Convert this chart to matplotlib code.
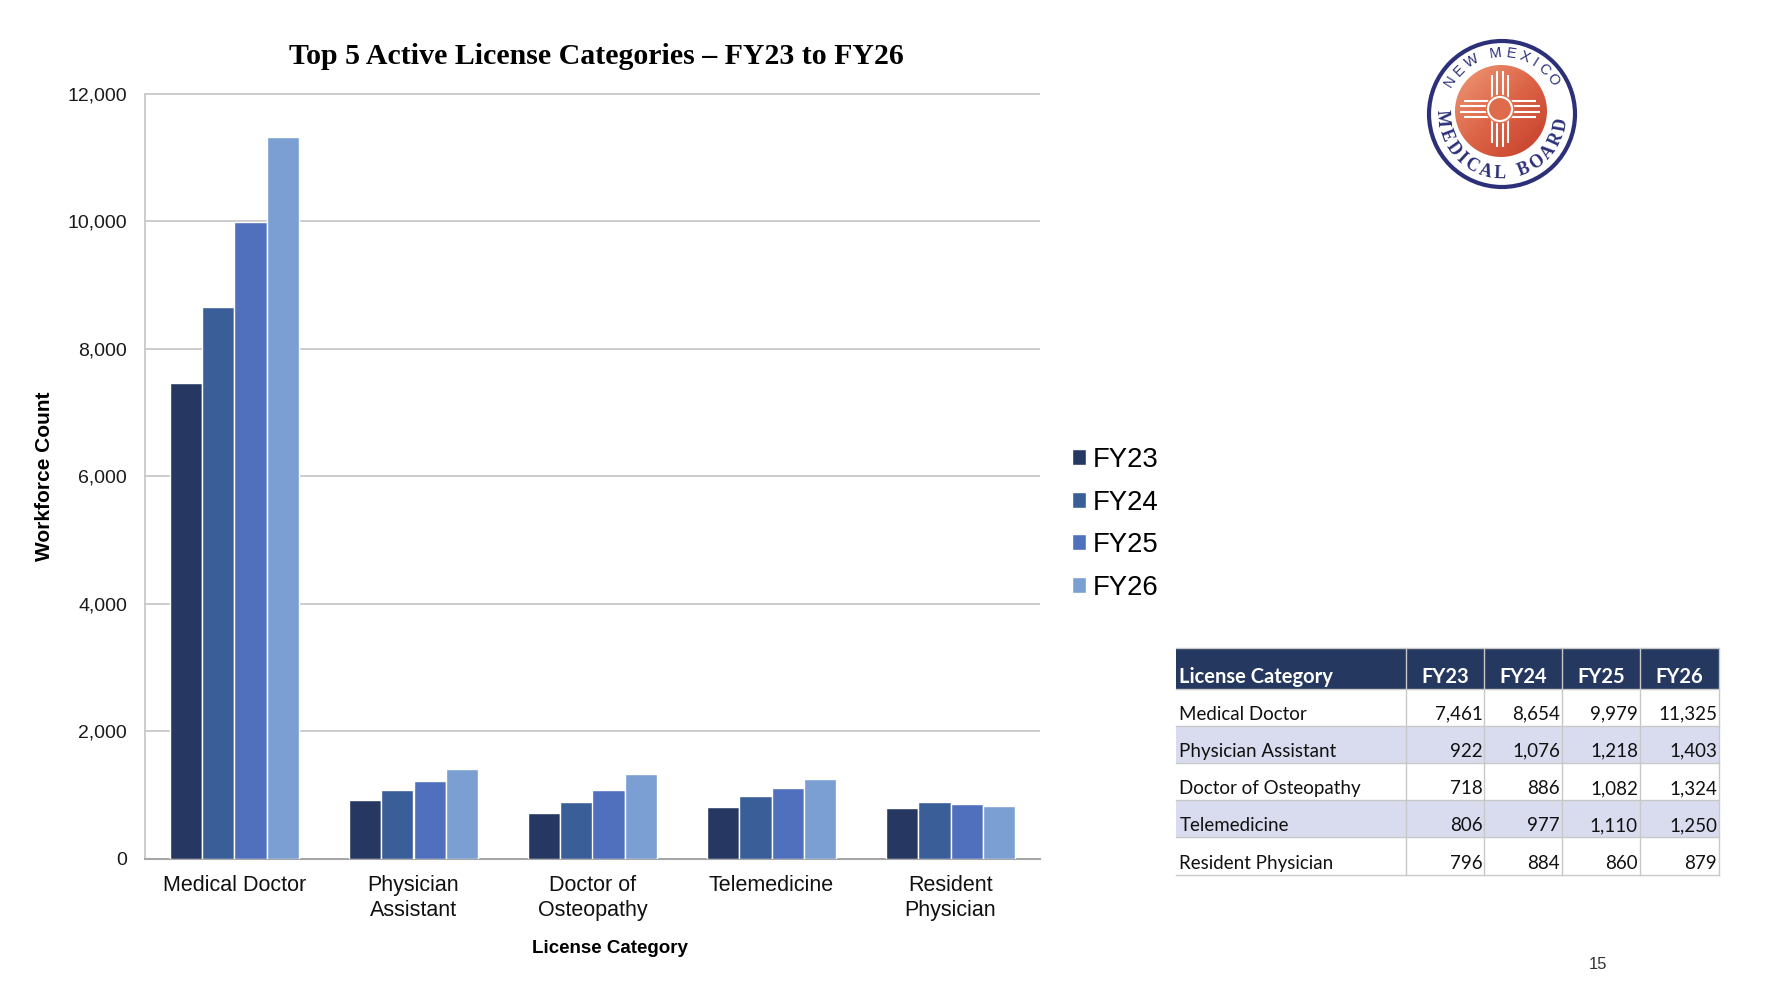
import numpy as np
import matplotlib.pyplot as plt
from matplotlib.patches import Rectangle, Circle
from matplotlib.colors import LinearSegmentedColormap
from matplotlib.ticker import FuncFormatter

plt.rcParams['font.family'] = ['Liberation Sans', 'DejaVu Sans']

categories = ['Medical Doctor', 'Physician Assistant', 'Doctor of Osteopathy',
              'Telemedicine', 'Resident Physician']
tick_labels = ['Medical Doctor', 'Physician\nAssistant', 'Doctor of\nOsteopathy',
               'Telemedicine', 'Resident\nPhysician']
years = ['FY23', 'FY24', 'FY25', 'FY26']
fy23 = [7461, 922, 718, 806, 796]
fy24 = [8654, 1076, 886, 977, 884]
fy25 = [9979, 1218, 1082, 1110, 860]
fy26 = [11325, 1403, 1324, 1250, 879]
# the FY26 Resident Physician bar on the slide sits lower than the table value
fy26_bar = [11325, 1403, 1324, 1250, 830]
table_series = [fy23, fy24, fy25, fy26]
bar_series = [fy23, fy24, fy25, fy26_bar]
colors = ['#263861', '#3A5E98', '#5070BE', '#7B9FD3']

W, H = 1774, 988
fig = plt.figure(figsize=(W / 100, H / 100), dpi=100)


def fx(px):
    return px / W


def fy(py):
    return 1 - py / H


# MAIN BAR CHART
ax_l, ax_r, ax_t, ax_b = 145, 1040, 93.5, 858.5
ax = fig.add_axes([fx(ax_l), fy(ax_b), (ax_r - ax_l) / W, (ax_b - ax_t) / H])
x = np.arange(len(categories))
bw = 0.18
for i, vals in enumerate(bar_series):
    ax.bar(x + (i - 1.5) * bw, vals, bw, color=colors[i], edgecolor='white',
           linewidth=1, label=years[i], zorder=3)
ax.set_xlim(-0.5, len(categories) - 0.5)
ax.set_ylim(0, 12000)
ax.set_yticks(range(0, 12001, 2000))
ax.yaxis.set_major_formatter(FuncFormatter(lambda v, p: f'{int(v):,}'))
ax.set_xticks(x)
ax.set_xticklabels(tick_labels, fontsize=15.5, linespacing=1.25)
ax.tick_params(axis='y', length=0, pad=13, labelsize=14, labelcolor='#1a1a1a')
ax.tick_params(axis='x', length=0, pad=12, labelcolor='#111111')
ax.grid(axis='y', color='#C4C4C4', linewidth=1.2, zorder=0)
ax.set_axisbelow(True)
for s in ['top', 'right']:
    ax.spines[s].set_visible(False)
ax.spines['left'].set_color('#C4C4C4')
ax.spines['left'].set_linewidth(1.2)
ax.spines['bottom'].set_color('#A6A6A6')
ax.spines['bottom'].set_linewidth(1.5)

fig.text(fx(596), fy(57), 'Top 5 Active License Categories \u2013 FY23 to FY26',
         family='Liberation Serif', weight='bold', fontsize=21.5, ha='center', va='center')
fig.text(fx(45), fy(476), 'Workforce Count', rotation=90, weight='bold', fontsize=15,
         ha='center', va='center')
fig.text(fx(610), fy(948), 'License Category', weight='bold', fontsize=13.5,
         ha='center', va='center')

handles, labels = ax.get_legend_handles_labels()
fig.legend(handles, labels, loc='upper left', bbox_to_anchor=(fx(1072), fy(447)),
           frameon=False, fontsize=19.8, handlelength=0.5, handleheight=0.5,
           handletextpad=0.25, labelspacing=0.6, borderpad=0, borderaxespad=0)

# OVERLAY IN PIXEL COORDS (y downwards) FOR TABLE, LOGO AND PAGE NUMBER
ov = fig.add_axes([0, 0, 1, 1], facecolor='none')
ov.axis('off')

# table
col_edges = [1176.5, 1406.5, 1484.5, 1562, 1640, 1719]
row_edges = [647.5, 689, 725.5, 762.5, 800, 837, 874.5]
header_bg = '#253860'
alt_bg = '#D9DCEF'
line_c = '#C8C8C8'
tfont = ['Lato', 'DejaVu Sans']
ov.add_patch(Rectangle((col_edges[0], row_edges[0]), col_edges[-1] - col_edges[0],
                       row_edges[1] - row_edges[0], facecolor=header_bg, edgecolor='none', zorder=2))
for r in range(len(categories)):
    if r % 2 == 1:
        ov.add_patch(Rectangle((col_edges[0], row_edges[r + 1]), col_edges[-1] - col_edges[0],
                               row_edges[r + 2] - row_edges[r + 1], facecolor=alt_bg,
                               edgecolor='none', zorder=2))
for yy in row_edges:
    ov.plot([col_edges[0], col_edges[-1]], [yy, yy], color=line_c, lw=1, zorder=3)
for xx in col_edges[1:]:
    ov.plot([xx, xx], [row_edges[0], row_edges[-1]], color=line_c, lw=1, zorder=3)

header = ['License Category'] + years
for c, txt in enumerate(header):
    if c == 0:
        ov.text(col_edges[0] + 3, row_edges[1] - 6, txt, color='white', weight='bold',
                family=tfont, fontsize=14.5, ha='left', va='baseline', zorder=4)
    else:
        ov.text((col_edges[c] + col_edges[c + 1]) / 2, row_edges[1] - 6, txt, color='white',
                weight='bold', family=tfont, fontsize=14.5, ha='center', va='baseline', zorder=4)
for r, cat in enumerate(categories):
    base = row_edges[r + 2] - 6
    ov.text(col_edges[0] + 3, base, cat, family=tfont, fontsize=13.5, ha='left',
            va='baseline', color='#111111', zorder=4)
    for c, vals in enumerate(table_series):
        ov.text(col_edges[c + 2] - 2, base, f'{vals[r]:,}', family=tfont, fontsize=13.5,
                ha='right', va='baseline', color='#111111', zorder=4)

# logo
cx, cy = 1502, 114
navy = '#2B3078'
ov.add_patch(Circle((cx, cy), 73, facecolor='white', edgecolor=navy, lw=3, zorder=5))
dx, dy, dr = 1501, 111, 46
disk = Circle((dx, dy), dr, transform=ov.transData)
g = np.linspace(0, 1, 120)
grad = np.add.outer(g, g)
cmap = LinearSegmentedColormap.from_list('zia', ['#EE9A78', '#DC6446', '#C43C2A'])
im = ov.imshow(grad, cmap=cmap, extent=[dx - dr, dx + dr, dy + dr, dy - dr], zorder=6)
im.set_clip_path(disk)
sx, sy = 1500, 109
offs = [-7.6, -2.7, 2.7, 7.6]
lens = [34, 38, 38, 34]
for o, ln in zip(offs, lens):
    ov.plot([sx + o, sx + o], [sy, sy - ln], color='white', lw=1.5, zorder=7, solid_capstyle='butt')
    ov.plot([sx + o, sx + o], [sy, sy + ln], color='white', lw=1.5, zorder=7, solid_capstyle='butt')
    ov.plot([sx, sx - ln - 2], [sy + o, sy + o], color='white', lw=1.5, zorder=7, solid_capstyle='butt')
    ov.plot([sx, sx + ln + 2], [sy + o, sy + o], color='white', lw=1.5, zorder=7, solid_capstyle='butt')
ov.add_patch(Circle((sx, sy), 14.5, facecolor='#E07453', edgecolor='none', zorder=8))
ov.add_patch(Circle((sx, sy), 12, facecolor='#DE6C4C', edgecolor='white', lw=1.5, zorder=9))


def arc_text(txt, a_start, a_end, rad, top, **kw):
    # spread letters along an arc, spaces and narrow letters take less room
    wts = [0.55 if ch == ' ' else 0.6 if ch == 'I' else 1.25 if ch in 'MW' else 1.0 for ch in txt]
    cum = np.cumsum(wts) - np.array(wts) / 2
    cum = (cum - cum[0]) / (cum[-1] - cum[0])
    for ch, f in zip(txt, cum):
        th = np.deg2rad(a_start + (a_end - a_start) * f)
        rot = np.rad2deg(th) - 90 if top else np.rad2deg(th) + 90
        ov.text(cx + rad * np.cos(th), cy - rad * np.sin(th), ch, rotation=rot,
                rotation_mode='anchor', ha='center', va='center', color=navy, zorder=10, **kw)


arc_text('NEW MEXICO', 148, 34, 61, True, fontsize=10.5)
arc_text('MEDICAL BOARD', 184, 350, 60, False, fontsize=13,
         family='Liberation Serif', weight='bold')

ov.text(1598, 964, '15', fontsize=12, ha='center', va='center', color='#333333')

ov.set_xlim(0, W)
ov.set_ylim(H, 0)
ov.set_aspect('auto')

fig.savefig('out.png', dpi=100, facecolor='white')
